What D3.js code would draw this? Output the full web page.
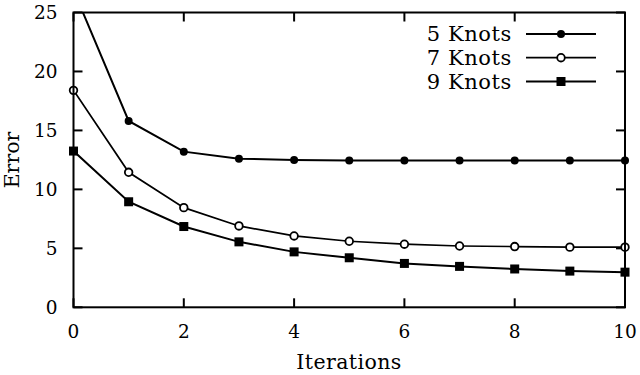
<!DOCTYPE html>
<html><head><meta charset="utf-8">
<script src="https://cdn.jsdelivr.net/npm/d3@7"></script>
<style>body{margin:0;background:#fff}svg{display:block}text{font-family:"DejaVu Serif",serif;fill:#000}</style>
</head><body>
<svg id="c" width="640" height="375"></svg>
<script>
const iterations = [0,1,2,3,4,5,6,7,8,9,10];
const knots5 = [26.9,15.8,13.2,12.6,12.5,12.45,12.45,12.45,12.45,12.45,12.45];
const knots7 = [18.4,11.45,8.45,6.9,6.05,5.6,5.35,5.2,5.15,5.1,5.1];
const knots9 = [13.25,8.95,6.85,5.55,4.7,4.2,3.72,3.47,3.25,3.07,2.98];
const seriesNames = ["5 Knots","7 Knots","9 Knots"];
const xTicks = [0,2,4,6,8,10];
const yTicks = [0,5,10,15,20,25];

const svg = d3.select("#c");
const L=73.5, R=625, T=12.5, B=307.3;
const x = d3.scaleLinear().domain([0,10]).range([L,R]);
const y = d3.scaleLinear().domain([0,25]).range([B,T]);

svg.append("clipPath").attr("id","clip").append("rect")
  .attr("x",L).attr("y",T).attr("width",R-L).attr("height",B-T);

const series = [
  {name:seriesNames[0], vals:knots5, marker:"dot", lw:2},
  {name:seriesNames[1], vals:knots7, marker:"ring", lw:1.7},
  {name:seriesNames[2], vals:knots9, marker:"square", lw:2}
];

// ticks (inward, mirrored)
const tl = 9;
const g = svg.append("g").attr("stroke","#000").attr("stroke-width",2);
xTicks.forEach(t=>{
  g.append("line").attr("x1",x(t)).attr("x2",x(t)).attr("y1",B).attr("y2",B-tl);
  g.append("line").attr("x1",x(t)).attr("x2",x(t)).attr("y1",T).attr("y2",T+tl);
});
yTicks.forEach(t=>{
  g.append("line").attr("x1",L).attr("x2",L+tl).attr("y1",y(t)).attr("y2",y(t));
  g.append("line").attr("x1",R).attr("x2",R-tl).attr("y1",y(t)).attr("y2",y(t));
});

// tick labels
svg.append("g").selectAll("text").data(xTicks).join("text")
  .attr("x",d=>x(d)).attr("y",338).attr("text-anchor","middle")
  .attr("font-size",18.5).text(d=>d);
svg.append("g").selectAll("text").data(yTicks).join("text")
  .attr("x",57.5).attr("y",d=>y(d)+6.7).attr("text-anchor","end")
  .attr("font-size",18.5).text(d=>d);

// axis titles
svg.append("text").attr("x",349).attr("y",369).attr("text-anchor","middle")
  .attr("font-size",20.5).attr("letter-spacing",0.4).text("Iterations");
svg.append("text").attr("transform","translate(19,160) rotate(-90)")
  .attr("text-anchor","middle").attr("font-size",20.5).text("Error");

function drawMarker(sel, type, cx, cy){
  if(type==="dot") sel.append("circle").attr("cx",cx).attr("cy",cy).attr("r",4).attr("fill","#000");
  else if(type==="ring") sel.append("circle").attr("cx",cx).attr("cy",cy).attr("r",3.8).attr("fill","#fff").attr("stroke","#000").attr("stroke-width",1.8);
  else sel.append("rect").attr("x",cx-4.5).attr("y",cy-4.5).attr("width",9).attr("height",9).attr("fill","#000");
}

const line = d3.line().x((d,i)=>x(iterations[i])).y(d=>y(d));
series.forEach(s=>{
  svg.append("path").attr("d",line(s.vals)).attr("fill","none")
    .attr("stroke","#000").attr("stroke-width",s.lw).attr("clip-path","url(#clip)");
});
series.forEach(s=>{
  const mg = svg.append("g");
  s.vals.forEach((v,i)=>{ if(v<=25) drawMarker(mg, s.marker, x(iterations[i]), y(v)); });
});

// frame
svg.append("rect").attr("x",L).attr("y",T).attr("width",R-L).attr("height",B-T)
  .attr("fill","none").attr("stroke","#000").attr("stroke-width",2);

// legend
const ly = [34,57.7,81.5];
series.forEach((s,i)=>{
  svg.append("text").attr("x",512).attr("y",ly[i]+7).attr("text-anchor","end")
    .attr("font-size",21).attr("letter-spacing",0.6).text(s.name);
  svg.append("line").attr("x1",526).attr("x2",596).attr("y1",ly[i]).attr("y2",ly[i])
    .attr("stroke","#000").attr("stroke-width",s.lw);
  drawMarker(svg, s.marker, 561, ly[i]);
});
</script>
</body></html>
